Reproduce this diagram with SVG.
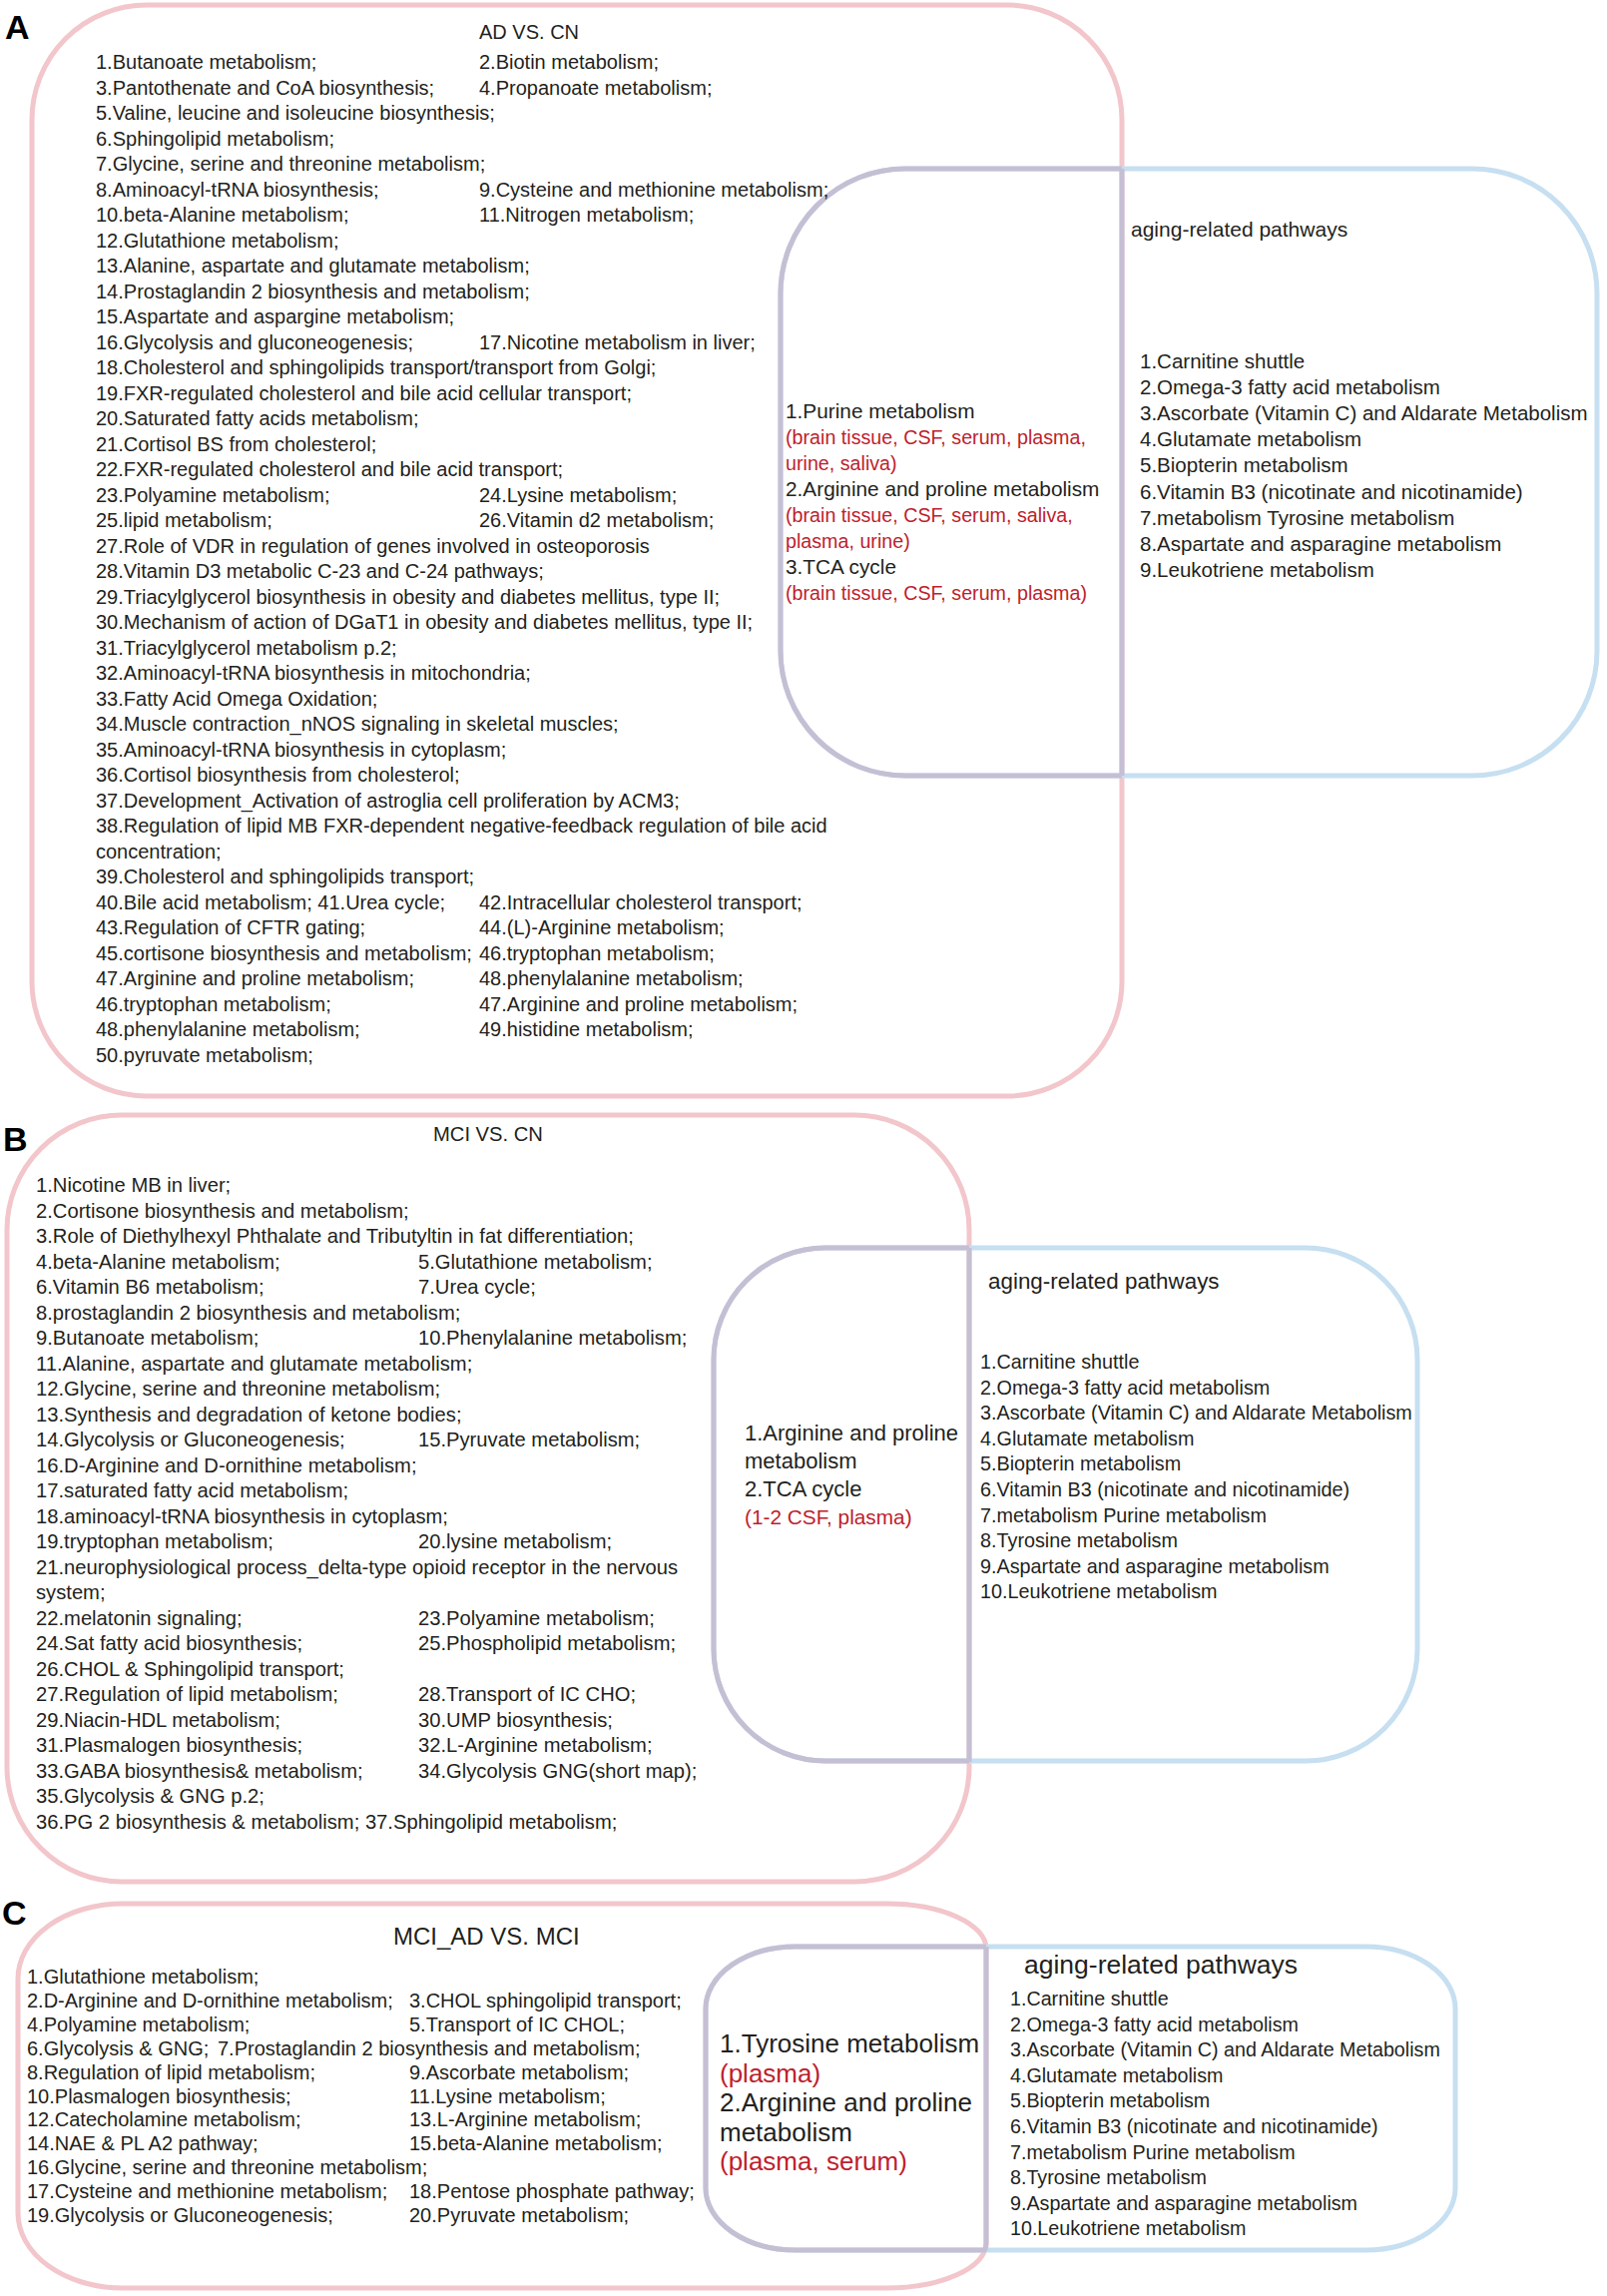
<svg xmlns="http://www.w3.org/2000/svg" width="1610" height="2300" viewBox="0 0 1610 2300">
<style>
text{font-family:"Liberation Sans",Arial,sans-serif;fill:#231f20}
.lbl{font-weight:bold;font-size:34px;fill:#000}
.a{font-size:20px}
.am{font-size:20.8px}
.ar{font-size:20.5px}
.ah{font-size:21px}
.b{font-size:20.2px}
.bm{font-size:22px}
.br{font-size:19.8px}
.bh{font-size:22.4px}
.c{font-size:20px}
.cm{font-size:26px}
.cr{font-size:19.7px}
.ch{font-size:26.5px}
.ct{font-size:24px}
.red{fill:#be1e2d}
.am.red{font-size:19.7px}
.bm.red{font-size:20.8px}
.pk{fill:none;stroke:#f2c6cb;stroke-width:5}
.bl{fill:none;stroke:#c6dff1;stroke-width:5}
.pu{fill:none;stroke:#c5bfd4;stroke-width:5}
</style>
<defs>
<clipPath id="inPA"><rect x="0" y="0" width="1124" height="1110"/></clipPath>
<clipPath id="inBA"><rect x="782" y="169" width="820" height="608"/></clipPath>
<clipPath id="inPB"><rect x="0" y="1105" width="971" height="790"/></clipPath>
<clipPath id="inBB"><rect x="715" y="1250" width="707" height="515"/></clipPath>
<clipPath id="inPC"><rect x="0" y="1895" width="988" height="405"/></clipPath>
<clipPath id="inBC"><rect x="707" y="1950" width="753" height="305"/></clipPath>
</defs>
<rect width="1610" height="2300" fill="#fff"/>

<g id="shapesA">
<rect id="A-pink" class="pk" x="32" y="5" width="1092" height="1093" rx="115" ry="115"/>
<rect id="A-blue" class="bl" x="782" y="169" width="818" height="608" rx="125" ry="125"/>
<rect class="pu" x="782" y="169" width="818" height="608" rx="125" ry="125" clip-path="url(#inPA)"/>
<rect class="pu" x="32" y="5" width="1092" height="1093" rx="115" ry="115" clip-path="url(#inBA)"/>
</g>
<g id="shapesB">
<rect id="B-pink" class="pk" x="7" y="1117" width="964" height="768" rx="115" ry="115"/>
<rect id="B-blue" class="bl" x="715" y="1250" width="705" height="514" rx="112" ry="112"/>
<rect class="pu" x="715" y="1250" width="705" height="514" rx="112" ry="112" clip-path="url(#inPB)"/>
<rect class="pu" x="7" y="1117" width="964" height="768" rx="115" ry="115" clip-path="url(#inBB)"/>
</g>
<g id="shapesC">
<path id="C-pink" class="pk" d="M123,1907 H888 A100 45 0 0 1 988 1952 V2247 A100 45 0 0 1 888 2292 H123 A105 75 0 0 1 18 2217 V1982 A105 75 0 0 1 123 1907 Z"/>
<rect id="C-blue" class="bl" x="707" y="1950" width="751" height="304" rx="90" ry="62"/>
<rect class="pu" x="707" y="1950" width="751" height="304" rx="90" ry="62" clip-path="url(#inPC)"/>
<path class="pu" d="M123,1907 H888 A100 45 0 0 1 988 1952 V2247 A100 45 0 0 1 888 2292 H123 A105 75 0 0 1 18 2217 V1982 A105 75 0 0 1 123 1907 Z" clip-path="url(#inBC)"/>
</g>
<g id="connectors"/>

<g id="labels">
<text class="lbl" x="5" y="39">A</text>
<text class="lbl" x="3" y="1153">B</text>
<text class="lbl" x="2" y="1928">C</text>
</g>

<g id="A-ad-vs-cn">
<text class="a" x="480" y="39">AD VS. CN</text>
<text class="a" x="96" y="69">1.Butanoate metabolism;</text>
<text class="a" x="480" y="69">2.Biotin metabolism;</text>
<text class="a" x="96" y="94.5">3.Pantothenate and CoA biosynthesis;</text>
<text class="a" x="480" y="94.5">4.Propanoate metabolism;</text>
<text class="a" x="96" y="120">5.Valine, leucine and isoleucine biosynthesis;</text>
<text class="a" x="96" y="145.5">6.Sphingolipid metabolism;</text>
<text class="a" x="96" y="171">7.Glycine, serine and threonine metabolism;</text>
<text class="a" x="96" y="196.5">8.Aminoacyl-tRNA biosynthesis;</text>
<text class="a" x="480" y="196.5">9.Cysteine and methionine metabolism;</text>
<text class="a" x="96" y="222">10.beta-Alanine metabolism;</text>
<text class="a" x="480" y="222">11.Nitrogen metabolism;</text>
<text class="a" x="96" y="247.5">12.Glutathione metabolism;</text>
<text class="a" x="96" y="273">13.Alanine, aspartate and glutamate metabolism;</text>
<text class="a" x="96" y="298.5">14.Prostaglandin 2 biosynthesis and metabolism;</text>
<text class="a" x="96" y="324">15.Aspartate and aspargine metabolism;</text>
<text class="a" x="96" y="349.5">16.Glycolysis and gluconeogenesis;</text>
<text class="a" x="480" y="349.5">17.Nicotine metabolism in liver;</text>
<text class="a" x="96" y="375">18.Cholesterol and sphingolipids transport/transport from Golgi;</text>
<text class="a" x="96" y="400.5">19.FXR-regulated cholesterol and bile acid cellular transport;</text>
<text class="a" x="96" y="426">20.Saturated fatty acids metabolism;</text>
<text class="a" x="96" y="451.5">21.Cortisol BS from cholesterol;</text>
<text class="a" x="96" y="477">22.FXR-regulated cholesterol and bile acid transport;</text>
<text class="a" x="96" y="502.5">23.Polyamine metabolism;</text>
<text class="a" x="480" y="502.5">24.Lysine metabolism;</text>
<text class="a" x="96" y="528">25.lipid metabolism;</text>
<text class="a" x="480" y="528">26.Vitamin d2 metabolism;</text>
<text class="a" x="96" y="553.5">27.Role of VDR in regulation of genes involved in osteoporosis</text>
<text class="a" x="96" y="579">28.Vitamin D3 metabolic C-23 and C-24 pathways;</text>
<text class="a" x="96" y="604.5">29.Triacylglycerol biosynthesis in obesity and diabetes mellitus, type II;</text>
<text class="a" x="96" y="630">30.Mechanism of action of DGaT1 in obesity and diabetes mellitus, type II;</text>
<text class="a" x="96" y="655.5">31.Triacylglycerol metabolism p.2;</text>
<text class="a" x="96" y="681">32.Aminoacyl-tRNA biosynthesis in mitochondria;</text>
<text class="a" x="96" y="706.5">33.Fatty Acid Omega Oxidation;</text>
<text class="a" x="96" y="732">34.Muscle contraction_nNOS signaling in skeletal muscles;</text>
<text class="a" x="96" y="757.5">35.Aminoacyl-tRNA biosynthesis in cytoplasm;</text>
<text class="a" x="96" y="783">36.Cortisol biosynthesis from cholesterol;</text>
<text class="a" x="96" y="808.5">37.Development_Activation of astroglia cell proliferation by ACM3;</text>
<text class="a" x="96" y="834">38.Regulation of lipid MB FXR-dependent negative-feedback regulation of bile acid</text>
<text class="a" x="96" y="859.5">concentration;</text>
<text class="a" x="96" y="885">39.Cholesterol and sphingolipids transport;</text>
<text class="a" x="96" y="910.5">40.Bile acid metabolism; 41.Urea cycle;</text>
<text class="a" x="480" y="910.5">42.Intracellular cholesterol transport;</text>
<text class="a" x="96" y="936">43.Regulation of CFTR gating;</text>
<text class="a" x="480" y="936">44.(L)-Arginine metabolism;</text>
<text class="a" x="96" y="961.5">45.cortisone biosynthesis and metabolism;</text>
<text class="a" x="480" y="961.5">46.tryptophan metabolism;</text>
<text class="a" x="96" y="987">47.Arginine and proline metabolism;</text>
<text class="a" x="480" y="987">48.phenylalanine metabolism;</text>
<text class="a" x="96" y="1012.5">46.tryptophan metabolism;</text>
<text class="a" x="480" y="1012.5">47.Arginine and proline metabolism;</text>
<text class="a" x="96" y="1038">48.phenylalanine metabolism;</text>
<text class="a" x="480" y="1038">49.histidine metabolism;</text>
<text class="a" x="96" y="1063.5">50.pyruvate metabolism;</text>
</g>

<g id="A-overlap">
<text class="am" x="787" y="419">1.Purine metabolism</text>
<text class="am red" x="787" y="445">(brain tissue, CSF, serum, plasma,</text>
<text class="am red" x="787" y="471">urine, saliva)</text>
<text class="am" x="787" y="497">2.Arginine and proline metabolism</text>
<text class="am red" x="787" y="523">(brain tissue, CSF, serum, saliva,</text>
<text class="am red" x="787" y="549">plasma, urine)</text>
<text class="am" x="787" y="575">3.TCA cycle</text>
<text class="am red" x="787" y="601">(brain tissue, CSF, serum, plasma)</text>
</g>

<g id="A-aging">
<text class="ah" x="1133" y="237">aging-related pathways</text>
<text class="ar" x="1142" y="368.5">1.Carnitine shuttle</text>
<text class="ar" x="1142" y="394.7">2.Omega-3 fatty acid metabolism</text>
<text class="ar" x="1142" y="420.9">3.Ascorbate (Vitamin C) and Aldarate Metabolism</text>
<text class="ar" x="1142" y="447.1">4.Glutamate metabolism</text>
<text class="ar" x="1142" y="473.3">5.Biopterin metabolism</text>
<text class="ar" x="1142" y="499.5">6.Vitamin B3 (nicotinate and nicotinamide)</text>
<text class="ar" x="1142" y="525.7">7.metabolism Tyrosine metabolism</text>
<text class="ar" x="1142" y="551.9">8.Aspartate and asparagine metabolism</text>
<text class="ar" x="1142" y="578.1">9.Leukotriene metabolism</text>
</g>

<g id="B-mci-vs-cn">
<text class="b" x="434" y="1143">MCI VS. CN</text>
<text class="b" x="36" y="1194">1.Nicotine MB in liver;</text>
<text class="b" x="36" y="1219.5">2.Cortisone biosynthesis and metabolism;</text>
<text class="b" x="36" y="1245">3.Role of Diethylhexyl Phthalate and Tributyltin in fat differentiation;</text>
<text class="b" x="36" y="1270.5">4.beta-Alanine metabolism;</text>
<text class="b" x="419" y="1270.5">5.Glutathione metabolism;</text>
<text class="b" x="36" y="1296">6.Vitamin B6 metabolism;</text>
<text class="b" x="419" y="1296">7.Urea cycle;</text>
<text class="b" x="36" y="1321.5">8.prostaglandin 2 biosynthesis and metabolism;</text>
<text class="b" x="36" y="1347">9.Butanoate metabolism;</text>
<text class="b" x="419" y="1347">10.Phenylalanine metabolism;</text>
<text class="b" x="36" y="1372.5">11.Alanine, aspartate and glutamate metabolism;</text>
<text class="b" x="36" y="1398">12.Glycine, serine and threonine metabolism;</text>
<text class="b" x="36" y="1423.5">13.Synthesis and degradation of ketone bodies;</text>
<text class="b" x="36" y="1449">14.Glycolysis or Gluconeogenesis;</text>
<text class="b" x="419" y="1449">15.Pyruvate metabolism;</text>
<text class="b" x="36" y="1474.5">16.D-Arginine and D-ornithine metabolism;</text>
<text class="b" x="36" y="1500">17.saturated fatty acid metabolism;</text>
<text class="b" x="36" y="1525.5">18.aminoacyl-tRNA biosynthesis in cytoplasm;</text>
<text class="b" x="36" y="1551">19.tryptophan metabolism;</text>
<text class="b" x="419" y="1551">20.lysine metabolism;</text>
<text class="b" x="36" y="1576.5">21.neurophysiological process_delta-type opioid receptor in the nervous</text>
<text class="b" x="36" y="1602">system;</text>
<text class="b" x="36" y="1627.5">22.melatonin signaling;</text>
<text class="b" x="419" y="1627.5">23.Polyamine metabolism;</text>
<text class="b" x="36" y="1653">24.Sat fatty acid biosynthesis;</text>
<text class="b" x="419" y="1653">25.Phospholipid metabolism;</text>
<text class="b" x="36" y="1678.5">26.CHOL &amp; Sphingolipid transport;</text>
<text class="b" x="36" y="1704">27.Regulation of lipid metabolism;</text>
<text class="b" x="419" y="1704">28.Transport of IC CHO;</text>
<text class="b" x="36" y="1729.5">29.Niacin-HDL metabolism;</text>
<text class="b" x="419" y="1729.5">30.UMP biosynthesis;</text>
<text class="b" x="36" y="1755">31.Plasmalogen biosynthesis;</text>
<text class="b" x="419" y="1755">32.L-Arginine metabolism;</text>
<text class="b" x="36" y="1780.5">33.GABA biosynthesis&amp; metabolism;</text>
<text class="b" x="419" y="1780.5">34.Glycolysis GNG(short map);</text>
<text class="b" x="36" y="1806">35.Glycolysis &amp; GNG p.2;</text>
<text class="b" x="36" y="1831.5">36.PG 2 biosynthesis &amp; metabolism; 37.Sphingolipid metabolism;</text>
</g>

<g id="B-overlap">
<text class="bm" x="746" y="1443">1.Arginine and proline</text>
<text class="bm" x="746" y="1471">metabolism</text>
<text class="bm" x="746" y="1499">2.TCA cycle</text>
<text class="bm red" x="746" y="1527">(1-2 CSF, plasma)</text>
</g>

<g id="B-aging">
<text class="bh" x="990" y="1291">aging-related pathways</text>
<text class="br" x="982" y="1371">1.Carnitine shuttle</text>
<text class="br" x="982" y="1396.6">2.Omega-3 fatty acid metabolism</text>
<text class="br" x="982" y="1422.2">3.Ascorbate (Vitamin C) and Aldarate Metabolism</text>
<text class="br" x="982" y="1447.8">4.Glutamate metabolism</text>
<text class="br" x="982" y="1473.4">5.Biopterin metabolism</text>
<text class="br" x="982" y="1499">6.Vitamin B3 (nicotinate and nicotinamide)</text>
<text class="br" x="982" y="1524.6">7.metabolism Purine metabolism</text>
<text class="br" x="982" y="1550.2">8.Tyrosine metabolism</text>
<text class="br" x="982" y="1575.8">9.Aspartate and asparagine metabolism</text>
<text class="br" x="982" y="1601.4">10.Leukotriene metabolism</text>
</g>

<g id="C-mciad-vs-mci">
<text class="ct" x="394" y="1948">MCI_AD VS. MCI</text>
<text class="c" x="27" y="1987">1.Glutathione metabolism;</text>
<text class="c" x="27" y="2010.9">2.D-Arginine and D-ornithine metabolism;</text>
<text class="c" x="410" y="2010.9">3.CHOL sphingolipid transport;</text>
<text class="c" x="27" y="2034.8">4.Polyamine metabolism;</text>
<text class="c" x="410" y="2034.8">5.Transport of IC CHOL;</text>
<text class="c" x="27" y="2058.7">6.Glycolysis &amp; GNG;</text>
<text class="c" x="218" y="2058.7">7.Prostaglandin 2 biosynthesis and metabolism;</text>
<text class="c" x="27" y="2082.6">8.Regulation of lipid metabolism;</text>
<text class="c" x="410" y="2082.6">9.Ascorbate metabolism;</text>
<text class="c" x="27" y="2106.5">10.Plasmalogen biosynthesis;</text>
<text class="c" x="410" y="2106.5">11.Lysine metabolism;</text>
<text class="c" x="27" y="2130.4">12.Catecholamine metabolism;</text>
<text class="c" x="410" y="2130.4">13.L-Arginine metabolism;</text>
<text class="c" x="27" y="2154.3">14.NAE &amp; PL A2 pathway;</text>
<text class="c" x="410" y="2154.3">15.beta-Alanine metabolism;</text>
<text class="c" x="27" y="2178.2">16.Glycine, serine and threonine metabolism;</text>
<text class="c" x="27" y="2202.1">17.Cysteine and methionine metabolism;</text>
<text class="c" x="410" y="2202.1">18.Pentose phosphate pathway;</text>
<text class="c" x="27" y="2226">19.Glycolysis or Gluconeogenesis;</text>
<text class="c" x="410" y="2226">20.Pyruvate metabolism;</text>
</g>

<g id="C-overlap">
<text class="cm" x="721" y="2056">1.Tyrosine metabolism</text>
<text class="cm red" x="721" y="2085.5">(plasma)</text>
<text class="cm" x="721" y="2115">2.Arginine and proline</text>
<text class="cm" x="721" y="2144.5">metabolism</text>
<text class="cm red" x="721" y="2174">(plasma, serum)</text>
</g>

<g id="C-aging">
<text class="ch" x="1026" y="1977">aging-related pathways</text>
<text class="cr" x="1012" y="2009">1.Carnitine shuttle</text>
<text class="cr" x="1012" y="2034.6">2.Omega-3 fatty acid metabolism</text>
<text class="cr" x="1012" y="2060.2">3.Ascorbate (Vitamin C) and Aldarate Metabolism</text>
<text class="cr" x="1012" y="2085.8">4.Glutamate metabolism</text>
<text class="cr" x="1012" y="2111.4">5.Biopterin metabolism</text>
<text class="cr" x="1012" y="2137">6.Vitamin B3 (nicotinate and nicotinamide)</text>
<text class="cr" x="1012" y="2162.6">7.metabolism Purine metabolism</text>
<text class="cr" x="1012" y="2188.2">8.Tyrosine metabolism</text>
<text class="cr" x="1012" y="2213.8">9.Aspartate and asparagine metabolism</text>
<text class="cr" x="1012" y="2239.4">10.Leukotriene metabolism</text>
</g>
</svg>
